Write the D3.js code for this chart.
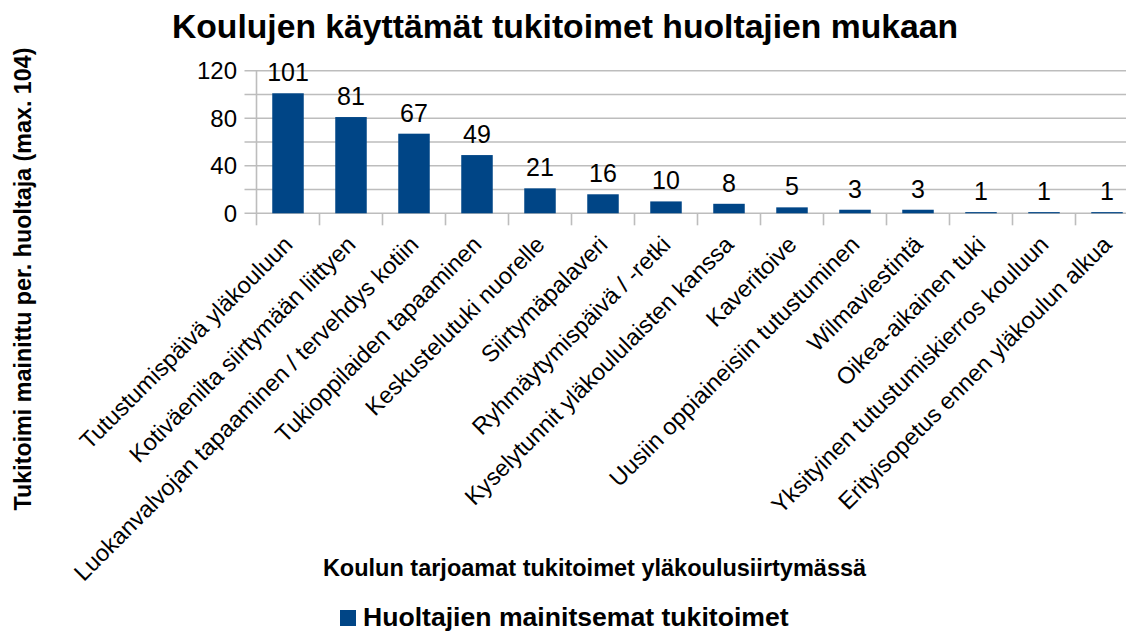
<!DOCTYPE html>
<html>
<head>
<meta charset="utf-8">
<script src="https://cdn.jsdelivr.net/npm/d3@7/dist/d3.min.js"></script>
<style>
  html, body { margin: 0; padding: 0; background: #fff; }
  svg { display: block; }
</style>
</head>
<body>
<div id="chart"></div>
<script>
// Chart data
const categories = [
  "Tutustumispäivä yläkouluun",
  "Kotiväenilta siirtymään liittyen",
  "Luokanvalvojan tapaaminen / tervehdys kotiin",
  "Tukioppilaiden tapaaminen",
  "Keskustelutuki nuorelle",
  "Siirtymäpalaveri",
  "Ryhmäytymispäivä / -retki",
  "Kyselytunnit yläkoululaisten kanssa",
  "Kaveritoive",
  "Uusiin oppiaineisiin tutustuminen",
  "Wilmaviestintä",
  "Oikea-aikainen tuki",
  "Yksityinen tutustumiskierros kouluun",
  "Erityisopetus ennen yläkoulun alkua"
]
const values = [101, 81, 67, 49, 21, 16, 10, 8, 5, 3, 3, 1, 1, 1]
const gridValues = [0, 20, 40, 60, 80, 100, 120]
const tickLabels = [0, 40, 80, 120]

const title = "Koulujen käyttämät tukitoimet huoltajien mukaan"
const yTitle = "Tukitoimi mainittu per. huoltaja (max. 104)"
const xTitle = "Koulun tarjoamat tukitoimet yläkoulusiirtymässä"
const seriesName = "Huoltajien mainitsemat tukitoimet"

const W = 1126, H = 631
const FONT = "'Liberation Sans', Arial, sans-serif"
const BAR = "#004586"
const GRID = "#bdbdbd"

// plot area (runs past the right edge, as in the original)
const plotLeft = 256.5, step = 63
const plotRight = plotLeft + step * categories.length
const plotTop = 70.7, plotBottom = 213.3

const svg = d3.select("#chart").append("svg")
  .attr("width", W)
  .attr("height", H)
  .style("font-family", FONT)

const x = d3.scaleBand()
  .domain(categories)
  .range([plotLeft, plotRight])
  .paddingInner(0.5)
  .paddingOuter(0.25)

const slot = d3.scaleBand()
  .domain(categories)
  .range([plotLeft, plotRight])

const y = d3.scaleLinear()
  .domain([0, 120])
  .range([plotBottom, plotTop])

// Gridlines (with the outward tick stubs)
svg.append("g")
  .selectAll("line")
  .data(gridValues)
  .join("line")
  .attr("x1", plotLeft - 12)
  .attr("x2", plotRight)
  .attr("y1", d => y(d))
  .attr("y2", d => y(d))
  .attr("stroke", GRID)
  .attr("stroke-width", 1.6)

// Vertical axis line
svg.append("line")
  .attr("x1", plotLeft).attr("x2", plotLeft)
  .attr("y1", y(120)).attr("y2", plotBottom + 12)
  .attr("stroke", GRID)
  .attr("stroke-width", 1.6)

// Category boundary ticks
svg.append("g")
  .selectAll("line")
  .data(categories.slice(1))
  .join("line")
  .attr("x1", d => slot(d))
  .attr("x2", d => slot(d))
  .attr("y1", plotBottom)
  .attr("y2", plotBottom + 12)
  .attr("stroke", GRID)
  .attr("stroke-width", 1.6)

// Y tick labels
svg.append("g")
  .selectAll("text")
  .data(tickLabels)
  .join("text")
  .attr("x", 237)
  .attr("y", d => y(d))
  .attr("dy", "0.35em")
  .attr("text-anchor", "end")
  .attr("font-size", "24px")
  .attr("fill", "#000")
  .text(d => d)

// Bars
svg.append("g")
  .selectAll("rect")
  .data(values)
  .join("rect")
  .attr("x", (d, i) => x(categories[i]))
  .attr("y", d => y(d))
  .attr("width", x.bandwidth())
  .attr("height", d => plotBottom - y(d))
  .attr("fill", BAR)

// Value labels
svg.append("g")
  .selectAll("text")
  .data(values)
  .join("text")
  .attr("x", (d, i) => x(categories[i]) + x.bandwidth() / 2)
  .attr("y", d => y(d) - 12)
  .attr("text-anchor", "middle")
  .attr("font-size", "25px")
  .attr("fill", "#000")
  .text(d => d)

// Category labels, rotated 45°
svg.append("g")
  .selectAll("text")
  .data(categories)
  .join("text")
  .attr("transform", d => {
    const cx = slot(d) + slot.bandwidth() / 2 + 6
    return `translate(${cx},246) rotate(-45)`
  })
  .attr("text-anchor", "end")
  .attr("font-size", "23.5px")
  .attr("fill", "#000")
  .text(d => d)

// Title
svg.append("text")
  .attr("x", 565)
  .attr("y", 37.5)
  .attr("text-anchor", "middle")
  .attr("font-size", "33.7px")
  .attr("font-weight", "bold")
  .attr("fill", "#000")
  .text(title)

// Axis titles
svg.append("text")
  .attr("transform", "translate(31,279) rotate(-90)")
  .attr("text-anchor", "middle")
  .attr("font-size", "23.3px")
  .attr("font-weight", "bold")
  .attr("fill", "#000")
  .text(yTitle)

svg.append("text")
  .attr("x", 594.5)
  .attr("y", 576)
  .attr("text-anchor", "middle")
  .attr("font-size", "23.5px")
  .attr("font-weight", "bold")
  .attr("fill", "#000")
  .text(xTitle)

// Legend
const legend = svg.append("g").attr("transform", "translate(340,610)")
legend.append("rect")
  .attr("width", 16)
  .attr("height", 16)
  .attr("fill", BAR)
legend.append("text")
  .attr("x", 23)
  .attr("y", 16)
  .attr("font-size", "26.6px")
  .attr("font-weight", "bold")
  .attr("fill", "#000")
  .text(seriesName)
</script>
</body>
</html>
